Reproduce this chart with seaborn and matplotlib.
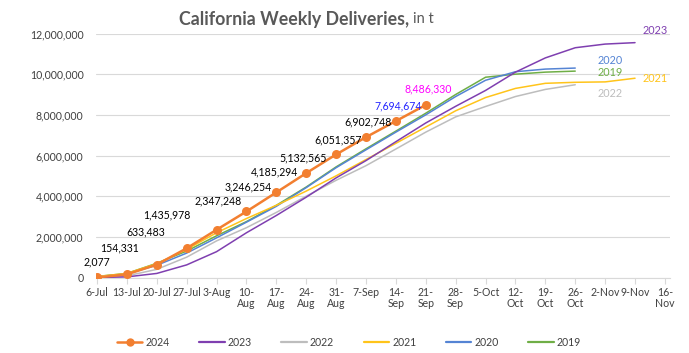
import numpy as np
import pandas as pd
import matplotlib
matplotlib.use("Agg")
import matplotlib.pyplot as plt
from matplotlib.lines import Line2D
import seaborn as sns

# ---------------- data ----------------
weeks = ["6-Jul", "13-Jul", "20-Jul", "27-Jul", "3-Aug", "10-Aug", "17-Aug", "24-Aug",
         "31-Aug", "7-Sep", "14-Sep", "21-Sep", "28-Sep", "5-Oct", "12-Oct", "19-Oct",
         "26-Oct", "2-Nov", "9-Nov", "16-Nov"]
tick_labels = ["6-Jul", "13-Jul", "20-Jul", "27-Jul", "3-Aug", "10-\nAug", "17-\nAug",
               "24-\nAug", "31-\nAug", "7-Sep", "14-\nSep", "21-\nSep", "28-\nSep", "5-Oct",
               "12-\nOct", "19-\nOct", "26-\nOct", "2-Nov", "9-Nov", "16-\nNov"]

y2024 = [2077, 154331, 633483, 1435978, 2347248, 3246254, 4185294, 5132565,
         6051357, 6902748, 7694674, 8486330]
y2023 = [0, 30000, 200000, 620000, 1270000, 2200000, 3050000, 3950000, 4900000,
         5750000, 6680000, 7600000, 8420000, 9200000, 10100000, 10800000, 11300000,
         11480000, 11550000]
y2022 = [40000, 80000, 400000, 1000000, 1800000, 2450000, 3200000, 4000000, 4780000,
         5500000, 6320000, 7150000, 7900000, 8410000, 8900000, 9250000, 9480000]
y2021 = [50000, 200000, 680000, 1380000, 2200000, 2900000, 3550000, 4250000, 5000000,
         5800000, 6600000, 7400000, 8200000, 8850000, 9300000, 9550000, 9600000,
         9620000, 9800000]
y2020 = [40000, 180000, 600000, 1200000, 1950000, 2720000, 3500000, 4420000, 5400000,
         6280000, 7150000, 8000000, 8900000, 9700000, 10120000, 10250000, 10300000]
y2019 = [50000, 200000, 700000, 1300000, 2050000, 2750000, 3550000, 4450000, 5440000,
         6330000, 7200000, 8080000, 9000000, 9850000, 10000000, 10100000, 10150000]

years = ["2024", "2023", "2022", "2021", "2020", "2019"]
series = [y2024, y2023, y2022, y2021, y2020, y2019]
colors = ["#F27F30", "#7F3FB0", "#BDBDBD", "#FFC41A", "#5584D4", "#6FAE46"]

label_colors = ["#000000"] * 10 + ["#2222FF", "#FF00FF"]
label_offsets = [(0, 16), (-7, 26), (-11, 33), (-20, 33), (2, 29), (2, 25), (-2, 20),
                 (-3, 15), (2, 15), (2, 15), (2, 15), (2, 16)]

# line-end year labels: (text, x index, value, colour index)
end_labels = [("2023", 18.66, 12.14e6, 1), ("2020", 17.16, 10.65e6, 4),
              ("2019", 17.16, 10.10e6, 5), ("2021", 18.66, 9.81e6, 3),
              ("2022", 17.16, 9.07e6, 2)]

rows = []
for yr, vals in zip(years, series):
    for i, v in enumerate(vals):
        rows.append({"x": i, "value": v, "year": yr})
df = pd.DataFrame(rows)

# ---------------- figure ----------------
sns.set_theme(style="white")
plt.rcParams["font.family"] = ["Lato", "DejaVu Sans"]

W, H = 689, 353
fig = plt.figure(figsize=(W / 100, H / 100), dpi=100)
ax = fig.add_axes([96 / W, 1 - 277.5 / H, (670 - 96) / W, (277.5 - 33.5) / H])

FS = 7.6

# draw older years first so 2024 is on top
for yr, col in list(zip(years, colors))[::-1]:
    sub = df[df["year"] == yr]
    if yr == "2024":
        sns.lineplot(data=sub, x="x", y="value", ax=ax, color=col, lw=1.8,
                     marker="o", markersize=6.5, markeredgewidth=0, sort=False,
                     zorder=5)
    else:
        sns.lineplot(data=sub, x="x", y="value", ax=ax, color=col, lw=1.1,
                     sort=False, zorder=3)

ax.set_xlim(-0.033, 19.17)
ax.set_ylim(0, 12e6)
ax.set_yticks(np.arange(0, 12e6 + 1, 2e6))
ax.yaxis.set_major_formatter(matplotlib.ticker.FuncFormatter(lambda v, p: f"{v:,.0f}"))
ax.set_xticks(range(len(weeks)))
ax.set_xticklabels(tick_labels, fontsize=FS, color="#404040", linespacing=1.0)
ax.tick_params(axis="y", labelsize=FS, labelcolor="#404040", length=0, pad=9)
ax.tick_params(axis="x", length=4, width=0.8, color="#D9D9D9", pad=3, direction="out",
               bottom=True)
ax.set_xlabel("")
ax.set_ylabel("")
ax.grid(axis="y", color="#D9D9D9", lw=0.8, zorder=0)
ax.grid(axis="x", visible=False)
for s in ["top", "right", "left"]:
    ax.spines[s].set_visible(False)
ax.spines["bottom"].set_color("#D9D9D9")
ax.spines["bottom"].set_linewidth(0.8)
if ax.get_legend() is not None:
    ax.get_legend().remove()

# 2024 data labels
for i, v in enumerate(y2024):
    dx, dy = label_offsets[i]
    ax.annotate(f"{v:,}", (i, v), xytext=(dx, dy), textcoords="offset pixels",
                ha="center", va="center", fontsize=FS, color=label_colors[i],
                zorder=6)

# line end labels
for txt, xi, val, ci in end_labels:
    ax.text(xi, val, txt, ha="center", va="center", fontsize=7.8, color=colors[ci])

# title (bold part + normal part)
t1 = fig.text(179 / W, 1 - 19 / H, "California Weekly Deliveries,", fontsize=12.8,
              fontweight="bold", color="#595959", ha="left", va="center")
fig.canvas.draw()
bb = t1.get_window_extent(renderer=fig.canvas.get_renderer())
fig.text(bb.x1 / W + 4 / W, 1 - 19 / H, "in t", fontsize=10.5, color="#595959",
         ha="left", va="center")

# legend
handles = []
for yr, col in zip(years, colors):
    if yr == "2024":
        handles.append(Line2D([], [], color=col, lw=1.8, marker="o", markersize=6,
                              markeredgewidth=0))
    else:
        handles.append(Line2D([], [], color=col, lw=1.6))
fig.legend(handles, years, loc="center", bbox_to_anchor=(349 / W, 1 - 342.6 / H),
           ncol=6, frameon=False, fontsize=FS, handlelength=2.4, handletextpad=0.3,
           columnspacing=2.8, labelcolor="#404040")

fig.savefig("out.png", dpi=100)
